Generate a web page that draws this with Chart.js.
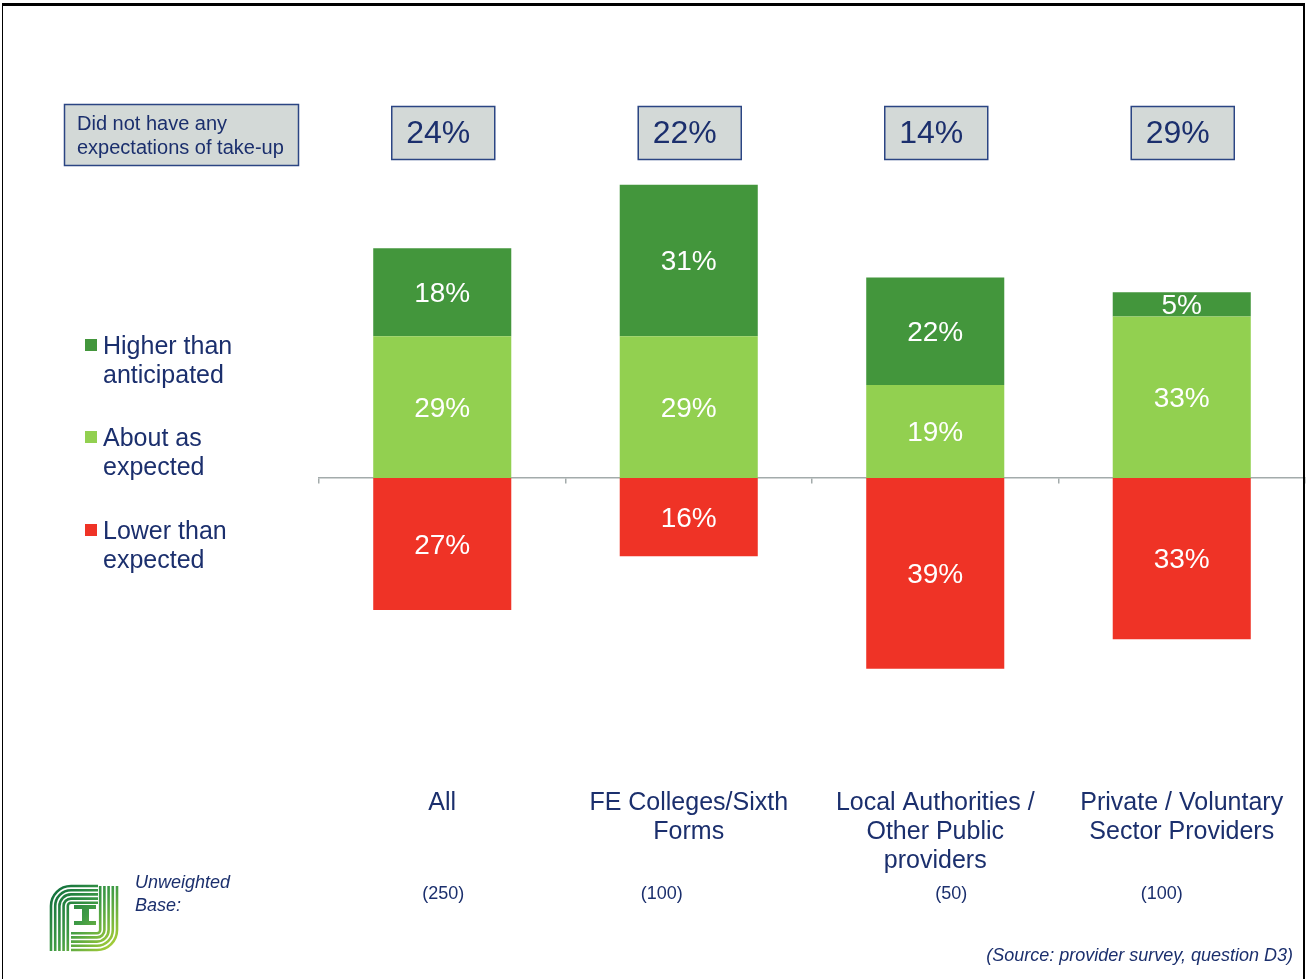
<!DOCTYPE html>
<html>
<head>
<meta charset="utf-8">
<title>Take-up compared with expectations</title>
<script src="https://cdn.jsdelivr.net/npm/chart.js@4/dist/chart.umd.min.js"></script>
<style>
  html, body { margin: 0; padding: 0; background: #fff; overflow: hidden; }
  #wrap { position: relative; width: 1311px; height: 979px; }
  #frame {
    position: absolute; left: 2px; top: 3px; width: 1303px; height: 1000px;
    border-left: 1px solid #000; border-top: 3px solid #000; border-right: 2px solid #000;
    box-sizing: border-box; pointer-events: none;
  }
  canvas { position: absolute; left: 0; top: 0; }
</style>
</head>
<body>
<div id="wrap">
  <canvas id="chart" width="1311" height="979"></canvas>
  <div id="frame"></div>
</div>
<script>
// provider groups and results
const categories = [['All'], ['FE Colleges/Sixth', 'Forms'], ['Local Authorities /', 'Other Public', 'providers'], ['Private / Voluntary', 'Sector Providers']];
const higherThanAnticipated = [18, 31, 22, 5];
const aboutAsExpected = [29, 29, 19, 33];
const lowerThanExpected = [27, 16, 39, 33];
const noExpectations = [24, 22, 14, 29];
const unweightedBase = [250, 100, 50, 100];

const NAVY = '#1b2f6d';
const FONT = '"Liberation Sans", Arial, sans-serif';

// base figures sit a little off the category centres
const baseShift = [1, -27, 16, -20];

const legendItems = [
  { color: '#43963c', lines: ['Higher than', 'anticipated'], y: 346 },
  { color: '#92d050', lines: ['About as', 'expected'], y: 438 },
  { color: '#ef3326', lines: ['Lower than', 'expected'], y: 531 }
];

// white value labels in the middle of each segment
const segmentLabels = {
  id: 'segmentLabels',
  afterDatasetsDraw(chart) {
    const ctx = chart.ctx;
    ctx.save();
    ctx.fillStyle = '#fff';
    ctx.font = '28px ' + FONT;
    ctx.textAlign = 'center';
    ctx.textBaseline = 'middle';
    chart.data.datasets.forEach((ds, i) => {
      chart.getDatasetMeta(i).data.forEach((bar, j) => {
        const v = Math.abs(ds.data[j]);
        ctx.fillText(v + '%', bar.x, (bar.y + bar.base) / 2 + 2);
      });
    });
    ctx.restore();
  }
};

function drawLogo(ctx) {
  const g = ctx.createLinearGradient(50, 885, 118, 951);
  g.addColorStop(0, '#0b6a3c');
  g.addColorStop(0.5, '#3f9b45');
  g.addColorStop(1, '#b8d636');
  ctx.save();
  ctx.strokeStyle = g;
  ctx.lineWidth = 2.6;
  for (let k = 0; k < 5; k++) {
    const o = k * 4.2;
    // F: top bars turning down the left side
    ctx.beginPath();
    ctx.moveTo(98, 886 + o);
    ctx.lineTo(72, 886 + o);
    ctx.arcTo(51 + o, 886 + o, 51 + o, 910, Math.max(2, 20 - o));
    ctx.lineTo(51 + o, 951);
    ctx.stroke();
    // J: right side turning along the bottom
    ctx.beginPath();
    ctx.moveTo(117 - o, 886);
    ctx.lineTo(117 - o, 928);
    ctx.arcTo(117 - o, 950 - o, 95, 950 - o, Math.max(2, 20 - o));
    ctx.lineTo(71, 950 - o);
    ctx.stroke();
  }
  // middle I
  ctx.fillStyle = g;
  ctx.fillRect(74, 905, 22, 4);
  ctx.fillRect(82, 909, 7, 12);
  ctx.fillRect(74, 921, 22, 4);
  ctx.restore();
}

// boxes, legend, category names, bases and notes
const annotations = {
  id: 'annotations',
  afterDraw(chart) {
    const ctx = chart.ctx;
    const x = chart.scales.x;
    ctx.save();

    // "did not have any expectations" boxes
    ctx.lineWidth = 1.5;
    ctx.strokeStyle = '#2b4583';
    ctx.fillStyle = '#d3d9d7';
    ctx.fillRect(64, 104, 234, 61);
    ctx.strokeRect(64.5, 104.5, 234, 61);
    ctx.fillStyle = NAVY;
    ctx.font = '20px ' + FONT;
    ctx.textBaseline = 'middle';
    ctx.textAlign = 'left';
    ctx.fillText('Did not have any', 77, 124);
    ctx.fillText('expectations of take-up', 77, 148);

    noExpectations.forEach((v, i) => {
      const cx = x.getPixelForValue(i) + 1;
      ctx.fillStyle = '#d3d9d7';
      ctx.fillRect(cx - 52, 106, 103, 53);
      ctx.strokeRect(cx - 51.5, 106.5, 103, 53);
      ctx.fillStyle = NAVY;
      ctx.font = '32px ' + FONT;
      ctx.textAlign = 'center';
      ctx.fillText(v + '%', cx - 5, 134);
    });

    // legend
    ctx.textAlign = 'left';
    ctx.font = '25px ' + FONT;
    legendItems.forEach(item => {
      ctx.fillStyle = item.color;
      ctx.fillRect(85, item.y - 7, 12, 12);
      ctx.fillStyle = NAVY;
      item.lines.forEach((t, k) => ctx.fillText(t, 103, item.y + 1 + k * 29));
    });

    // category names
    ctx.textAlign = 'center';
    categories.forEach((lines, i) => {
      const cx = x.getPixelForValue(i);
      lines.forEach((t, k) => ctx.fillText(t, cx, 803 + k * 29));
    });

    // unweighted bases
    ctx.font = '18px ' + FONT;
    unweightedBase.forEach((n, i) => {
      ctx.fillText('(' + n + ')', x.getPixelForValue(i) + baseShift[i], 894);
    });
    ctx.font = 'italic 18px ' + FONT;
    ctx.textAlign = 'left';
    ctx.fillText('Unweighted', 135, 883);
    ctx.fillText('Base:', 135, 906);
    ctx.textAlign = 'right';
    ctx.fillText('(Source: provider survey, question D3)', 1293, 956);

    drawLogo(ctx);
    ctx.restore();
  }
};

new Chart(document.getElementById('chart'), {
  type: 'bar',
  data: {
    labels: categories.map(c => c.join(' ')),
    datasets: [
      { label: 'About as expected', data: aboutAsExpected, backgroundColor: '#92d050' },
      { label: 'Higher than anticipated', data: higherThanAnticipated, backgroundColor: '#43963c' },
      { label: 'Lower than expected', data: lowerThanExpected.map(v => -v), backgroundColor: '#ef3326' }
    ]
  },
  options: {
    responsive: false,
    animation: false,
    events: [],
    barPercentage: 0.56,
    categoryPercentage: 1,
    layout: { padding: { left: 319, right: 6, top: 184.6, bottom: 281 } },
    plugins: { legend: { display: false }, tooltip: { enabled: false } },
    scales: {
      x: {
        stacked: true,
        position: { y: 0 },
        ticks: { display: false },
        grid: { offset: true, drawOnChartArea: false, drawTicks: true, tickLength: 5, color: '#a3abab', lineWidth: 1.5 },
        border: { color: '#a3abab', width: 1.5 }
      },
      y: {
        stacked: true,
        display: false,
        min: -45,
        max: 60
      }
    }
  },
  plugins: [segmentLabels, annotations]
});
</script>
</body>
</html>
